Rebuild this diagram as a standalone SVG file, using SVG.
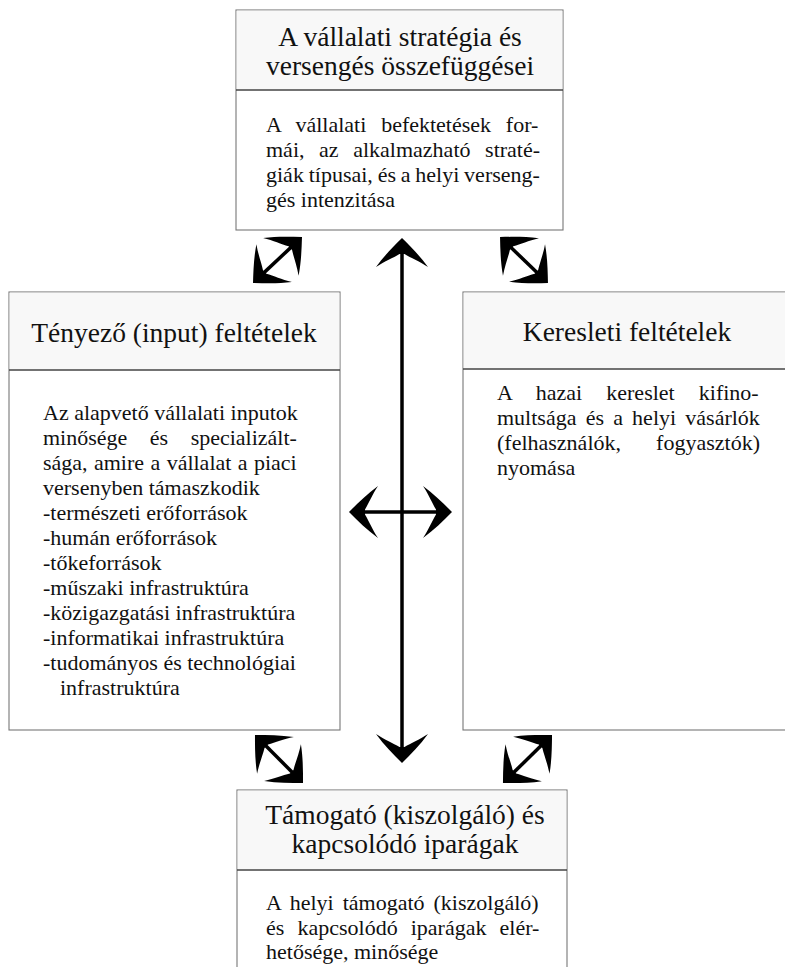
<svg xmlns="http://www.w3.org/2000/svg" width="785" height="967" viewBox="0 0 785 967">
<style>
.box{fill:#fff;stroke:#777;stroke-width:1.1}
.hdr{fill:#f8f8f8;stroke:none}
.div{stroke:#444;stroke-width:1.3}
.title{font-family:"Liberation Serif","Times New Roman",serif;font-size:27.5px;fill:#111;text-anchor:middle}
.body{font-family:"Liberation Serif","Times New Roman",serif;font-size:22px;fill:#111}
.arr{stroke:#000;stroke-width:3.5;fill:none;marker-start:url(#ah);marker-end:url(#ah)}
</style>
<defs>
<marker id="ah" viewBox="-30 -30 40 60" refX="0" refY="0" markerWidth="40" markerHeight="60" markerUnits="userSpaceOnUse" orient="auto-start-reverse" overflow="visible">
<path d="M3,0 C-6,-9 -15,-18 -26,-26 C-20,-17 -17,-9 -13,-2.5 L-13,2.5 C-17,9 -20,17 -26,26 C-15,18 -6,9 3,0 Z" fill="#000"/>
</marker>
</defs>
<rect width="785" height="967" fill="#fff"/>

<g id="strategy">
<rect class="box" x="236" y="10" width="327" height="220"/>
<rect class="hdr" x="236.6" y="10.6" width="325.8" height="79"/>
<line class="div" x1="236" y1="90" x2="563" y2="90"/>
<text class="title" x="400" y="46">A vállalati stratégia és</text>
<text class="title" x="400" y="75">versengés összefüggései</text>
<text class="body" x="266" y="132" word-spacing="9.3">A vállalati befektetések for-</text>
<text class="body" x="266" y="157" word-spacing="9.1">mái, az alkalmazható straté-</text>
<text class="body" x="266" y="182" word-spacing="-0.7">giák típusai, és a helyi verseng-</text>
<text class="body" x="266" y="207">gés intenzitása</text>
</g>

<g id="factor">
<rect class="box" x="9" y="292" width="331" height="438"/>
<rect class="hdr" x="9.6" y="292.6" width="329.8" height="77"/>
<line class="div" x1="9" y1="370" x2="340" y2="370"/>
<text class="title" x="174" y="342">Tényező (input) feltételek</text>
<text class="body" x="43" y="420">Az alapvető vállalati inputok</text>
<text class="body" x="43" y="445" word-spacing="17">minősége és specializált-</text>
<text class="body" x="43" y="470" word-spacing="0.9">sága, amire a vállalat a piaci</text>
<text class="body" x="43" y="495">versenyben támaszkodik</text>
<text class="body" x="43" y="520">-természeti erőforrások</text>
<text class="body" x="43" y="545">-humán erőforrások</text>
<text class="body" x="43" y="570">-tőkeforrások</text>
<text class="body" x="43" y="595">-műszaki infrastruktúra</text>
<text class="body" x="43" y="620">-közigazgatási infrastruktúra</text>
<text class="body" x="43" y="645">-informatikai infrastruktúra</text>
<text class="body" x="43" y="670">-tudományos és technológiai</text>
<text class="body" x="60" y="695">infrastruktúra</text>
</g>

<g id="demand">
<rect class="box" x="463" y="292" width="330" height="438"/>
<rect class="hdr" x="463.6" y="292.6" width="328" height="76"/>
<line class="div" x1="463" y1="369" x2="785" y2="369"/>
<text class="title" x="627" y="341">Keresleti feltételek</text>
<text class="body" x="497" y="400" word-spacing="18.6">A hazai kereslet kifino-</text>
<text class="body" x="497" y="425" word-spacing="3.7">multsága és a helyi vásárlók</text>
<text class="body" x="497" y="450" word-spacing="29.6">(felhasználók, fogyasztók)</text>
<text class="body" x="497" y="475">nyomása</text>
</g>

<g id="related">
<rect class="box" x="237" y="790" width="330" height="190"/>
<rect class="hdr" x="237.6" y="790.6" width="328.8" height="79"/>
<line class="div" x1="237" y1="870" x2="567" y2="870"/>
<text class="title" x="405" y="824">Támogató (kiszolgáló) és</text>
<text class="title" x="405" y="853">kapcsolódó iparágak</text>
<text class="body" x="266" y="910" word-spacing="3.5">A helyi támogató (kiszolgáló)</text>
<text class="body" x="266" y="935" word-spacing="7.6">és kapcsolódó iparágak elér-</text>
<text class="body" x="266" y="959">hetősége, minősége</text>
</g>

<g id="connectors">
<line class="arr" x1="402" y1="241" x2="402" y2="760"/>
<line class="arr" x1="352" y1="512" x2="449" y2="512"/>
<line class="arr" x1="255.2" y1="280.9" x2="299.8" y2="239.1"/>
<line class="arr" x1="502.2" y1="239.1" x2="545.8" y2="280.9"/>
<line class="arr" x1="257.1" y1="737.1" x2="300.9" y2="780.9"/>
<line class="arr" x1="505.1" y1="780.9" x2="549.9" y2="737.1"/>
</g>
</svg>
